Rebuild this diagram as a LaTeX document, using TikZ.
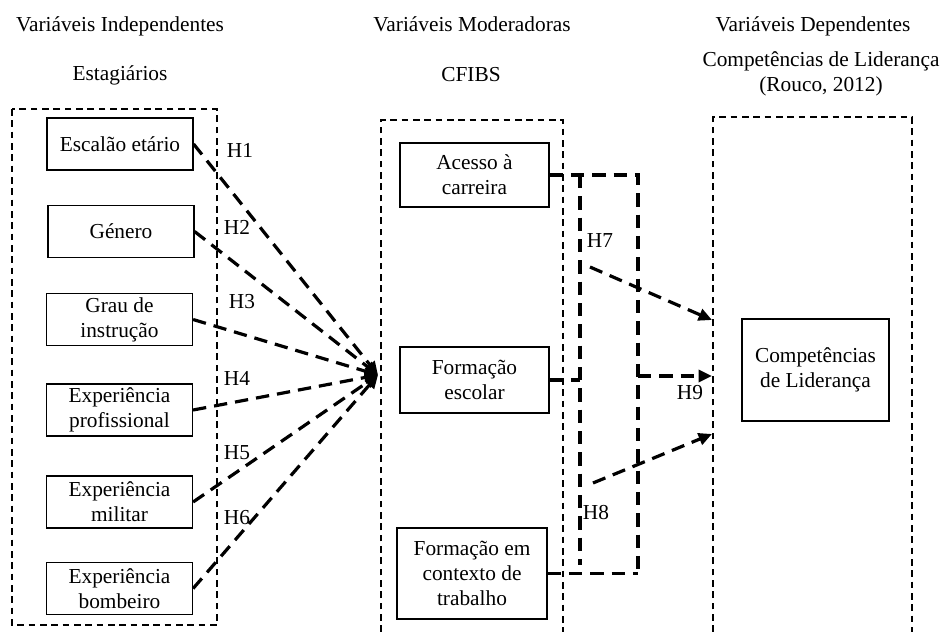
\documentclass[tikz,border=0pt]{standalone}
\usepackage{fontspec}
\setmainfont{Liberation Serif}
\usetikzlibrary{arrows.meta}
\begin{document}
\begin{tikzpicture}[x=0.75pt,y=-0.75pt,
  txt/.style={font=\fontsize{16}{18.75}\selectfont},
  varbox/.style={txt, draw, line width=0.9pt, align=center, inner sep=0pt},
  head/.style={txt, anchor=base, inner sep=0pt, align=center},
  hyp/.style={txt, inner sep=0pt},
  groupframe/.style={draw, line width=0.8pt, dash pattern=on 5pt off 3.5pt},
  link/.style={line width=2.4pt, dash pattern=on 10pt off 6pt},
  linkarrow/.style={link, -{Triangle[length=10pt,width=9pt]}},
]
\useasboundingbox (0,0) rectangle (940,632);

% column headings
\node[head] (hInd) at (120,31) {Variáveis Independentes};
\node[head] (hEst) at (120,80) {Estagiários};
\node[head] (hMod) at (472,31) {Variáveis Moderadoras};
\node[head] (hCfi) at (471,81) {CFIBS};
\node[head] (hDep) at (813,31) {Variáveis Dependentes};
\node[head] (hCom) at (821,66) {Competências de Liderança};
\node[head] (hRou) at (821,91) {(Rouco, 2012)};

% group frames
\draw[groupframe] (12,109) rectangle (217,625);
\draw[groupframe] (381,632) -- (381,120) -- (563,120) -- (563,632);
\draw[groupframe] (713,632) -- (713,117) -- (912,117) -- (912,632);

% independent variables
\node[varbox, minimum width=109.5pt, minimum height=39pt] (e1) at (120,144) {Escalão etário};
\node[varbox, minimum width=109.5pt, minimum height=38.5pt] (e2) at (121,231.5) {Género};
\node[varbox, minimum width=109.5pt, minimum height=39.5pt] (e3) at (119.5,319.5) {Grau de\\instrução};
\node[varbox, minimum width=109.5pt, minimum height=39pt] (e4) at (119.5,410) {Experiência\\profissional};
\node[varbox, minimum width=109.5pt, minimum height=39pt] (e5) at (119.5,502) {Experiência\\militar};
\node[varbox, minimum width=109.5pt, minimum height=38.5pt] (e6) at (119.5,588.5) {Experiência\\bombeiro};

% moderating variables
\node[varbox, minimum width=111.75pt, minimum height=48pt] (m1) at (474.5,175) {Acesso à\\carreira};
\node[varbox, minimum width=111.75pt, minimum height=49.5pt] (m2) at (474.5,380) {Formação\\escolar};
\node[varbox, minimum width=112.5pt, minimum height=68.25pt] (m3) at (472,573.5) {Formação em\\contexto de\\trabalho};

% dependent variable
\node[varbox, minimum width=110.25pt, minimum height=76.5pt] (c1) at (815.5,370) {Competências\\de Liderança};

% hypotheses H1--H6 converge on the moderator frame
\coordinate (conv) at (378,375);
\foreach \i in {1,...,6} {
  \draw[linkarrow] (e\i.east) -- (conv);
}
\node[hyp] (H1) at (240,150) {H1};
\node[hyp] (H2) at (237,227) {H2};
\node[hyp] (H3) at (242,302) {H3};
\node[hyp] (H4) at (237,378) {H4};
\node[hyp] (H5) at (237,453) {H5};
\node[hyp] (H6) at (237,518) {H6};

% moderator bracket
\coordinate (lt) at (580,175);
\coordinate (lb) at (580,565);
\coordinate (rt) at (638,175);
\coordinate (rb) at (638,573.5);
\draw[link] (m1.east) -- (rt) -- (rb);
\draw[link] (m3.east) -- (rb);
\draw[link] (lt) -- (lb);
\draw[link] (m2.east) -- (m2.east -| lt);

% hypotheses H7--H9
\coordinate (h7s) at (590,267);
\coordinate (h7e) at (712,320);
\coordinate (h9s) at (638,376);
\coordinate (h9e) at (712,376);
\coordinate (h8s) at (593,483);
\coordinate (h8e) at (712,434);
\draw[linkarrow] (h7s) -- (h7e);
\draw[linkarrow] (h9s) -- (h9e);
\draw[linkarrow] (h8s) -- (h8e);
\node[hyp] (H7) at (600,241) {H7};
\node[hyp] (H8) at (596,513) {H8};
\node[hyp] (H9) at (690,393) {H9};
\end{tikzpicture}
\end{document}
